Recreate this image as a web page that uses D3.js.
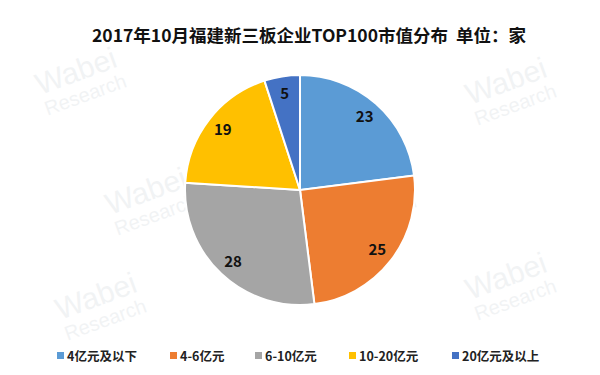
<!DOCTYPE html>
<html><head><meta charset="utf-8">
<script src="https://cdn.jsdelivr.net/npm/d3@7"></script>
<style>body{margin:0;background:#fff}svg{display:block}</style>
</head><body>
<svg id="c" width="600" height="375"></svg>
<script>
const title = "2017年10月福建新三板企业TOP100市值分布  单位：家";
const categories = ["4亿元及以下", "4-6亿元", "6-10亿元", "10-20亿元", "20亿元及以上"];
const values = [23, 25, 28, 19, 5];
const colors = ["#5B9BD5", "#ED7D31", "#A5A5A5", "#FFC000", "#4472C4"];

const svg = d3.select("#c");
const font = "'Microsoft YaHei','Noto Sans CJK SC',sans-serif";

// faint watermarks (kept inside the frame)
const wm = [[40,95],[110,215],[330,215],[470,105],[60,320],[470,300]];
wm.forEach(([x,y])=>{
  const g = svg.append("g").attr("transform",`translate(${x},${y}) rotate(-20)`).attr("opacity",0.1);
  g.append("text").attr("x",0).attr("y",0).attr("font-family","Arial,sans-serif").attr("font-size",30).attr("fill","#8090a0").text("Wabei");
  g.append("text").attr("x",0).attr("y",22).attr("font-family","Arial,sans-serif").attr("font-size",20).attr("fill","#8090a0").text("Research");
});

svg.append("text").attr("x",309).attr("y",42).attr("text-anchor","middle")
  .attr("font-family",font).attr("font-weight","bold").attr("font-size",17.5).attr("fill","#111")
  .style("white-space","pre").text(title);

const cx = 300, cy = 190, r = 115;
const pie = d3.pie().sort(null).value(d=>d)(values);
const arc = d3.arc().innerRadius(0).outerRadius(r);
const labelArc = d3.arc().innerRadius(r*0.85).outerRadius(r*0.85);
const g = svg.append("g").attr("transform",`translate(${cx},${cy})`);
g.selectAll("path").data(pie).join("path")
  .attr("d",arc).attr("fill",(d,i)=>colors[i]).attr("stroke","#fff").attr("stroke-width",2);
g.selectAll("text").data(pie).join("text")
  .attr("transform",d=>`translate(${labelArc.centroid(d)})`)
  .attr("text-anchor","middle").attr("dy","0.35em")
  .attr("font-family",font).attr("font-weight","bold").attr("font-size",15).attr("fill","#111")
  .text(d=>d.data);

// legend
const legX = [57, 170, 255, 349, 452];
const lg = svg.append("g");
categories.forEach((c,i)=>{
  lg.append("rect").attr("x",legX[i]).attr("y",352).attr("width",7).attr("height",7).attr("fill",colors[i]);
  lg.append("text").attr("x",legX[i]+10).attr("y",360.5)
    .attr("font-family",font).attr("font-weight","bold").attr("font-size",12.5).attr("fill","#222").text(c);
});
</script>
</body></html>
